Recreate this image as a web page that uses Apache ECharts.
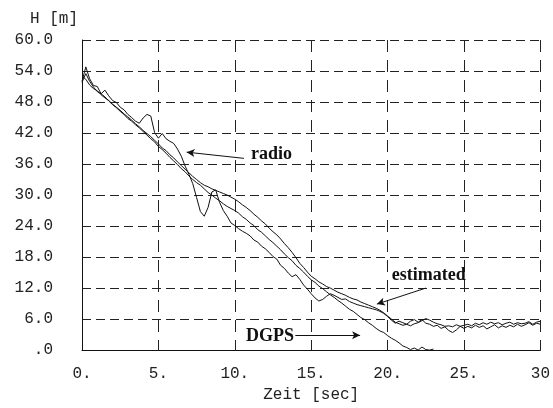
<!DOCTYPE html>
<html>
<head>
<meta charset="utf-8">
<script src="https://cdn.jsdelivr.net/npm/echarts@6/dist/echarts.min.js"></script>
<style>
  html, body { margin: 0; padding: 0; background: #fff; }
  #echarts { width: 553px; height: 408px; }
</style>
</head>
<body>
<div id="echarts"></div>
<script>
// Abtastschritt der Messreihen [sec]
var step = 0.25;

// Hoehe H [m], alle 0.25 s
var dgps = [
    51.8, 53.5, 52.0, 50.9,  50.0, 49.6, 49.0, 48.2,  47.5, 46.9, 46.2, 45.6,
    44.8, 44.3, 43.6, 43.0,  42.3, 41.6, 40.9, 40.3,  39.4, 38.8, 38.1, 37.3,
    36.6, 35.9, 35.1, 34.5,  33.7, 33.0, 32.4, 31.9,  31.2, 30.5, 30.0, 29.4,
    28.9, 28.3, 27.8, 27.4,  27.0, 26.5, 25.8, 25.3,  24.6, 24.1, 23.3, 22.8,
    22.1, 21.4, 20.8, 20.1,  19.4, 18.6, 17.9, 17.3,  16.4, 15.8, 15.1, 14.3,
    13.6, 13.1, 12.4, 11.9,  11.3, 10.7, 10.2, 9.6,   9.1, 8.5, 7.9, 7.5,
    6.9, 6.3, 5.9, 5.3,      4.8, 4.2, 3.7, 3.4,      2.8, 2.3, 1.9, 1.4,
    0.8, 0.5, 0.1, 0.4,      0.0, 0.6, 0.1, 0.0,      0.2
];

var estimated = [
    53.0, 52.4, 51.3, 50.6,  50.2, 49.4, 48.8, 48.3,  47.6, 47.0, 46.4, 45.7,
    45.1, 44.5, 43.8, 43.2,  42.5, 41.9, 41.3, 40.6,  39.9, 39.1, 38.6, 37.8,
    37.2, 36.4, 35.7, 35.0,  34.3, 33.6, 33.0, 32.4,  31.9, 31.6, 31.2, 30.9,
    30.6, 30.3, 30.0, 29.6,  29.2, 28.7, 28.1, 27.6,  27.0, 26.3, 25.7, 25.0,
    24.4, 23.6, 22.9, 22.3,  21.5, 20.6, 19.8, 18.9,  17.9, 16.8, 16.0, 15.1,
    14.3, 13.8, 13.2, 12.8,  12.3, 12.0, 11.6, 11.2,  10.9, 10.6, 10.2, 9.9,
    9.7, 9.3, 9.0, 8.7,      8.4, 8.1, 7.7, 7.2,      6.6, 6.0, 5.4, 5.1,
    4.8, 5.0, 4.7, 5.1,      5.3, 5.7, 6.1, 5.8,      5.4, 5.1, 4.9, 4.6,
    4.7, 4.5, 4.9, 4.6,      4.8, 5.0, 4.7, 5.2,      4.9, 5.3, 5.0, 5.4,
    5.1, 5.3, 4.9, 5.2,      5.4, 5.0, 5.3, 5.1,      5.2, 5.5, 5.0, 5.4,
    5.6
];

var radio = [
    52.0, 54.8, 52.5, 51.2,  51.0, 49.6, 50.3, 49.2,  48.3, 47.9, 47.0, 46.5,
    45.6, 45.0, 44.3, 43.9,  44.9, 45.6, 45.3, 42.1,  41.0, 41.9, 40.9, 40.4,
    40.0, 38.9, 37.5, 35.6,  34.0, 32.2, 29.5, 26.8,  25.9, 27.6, 30.6, 31.0,
    28.6, 27.0, 25.9, 24.6,  24.1, 23.5, 23.0, 22.6,  22.1, 21.3, 20.9, 20.1,
    19.6, 18.9, 18.1, 17.6,  16.4, 15.8, 14.9, 14.2,  14.6, 13.7, 12.6, 11.8,
    10.9, 10.1, 9.5, 9.8,    10.4, 10.9, 10.6, 10.2,  9.8, 9.9, 9.4, 9.1,
    8.8, 8.6, 8.4, 8.2,      8.0, 7.8, 7.5, 7.1,      6.5, 5.8, 5.2, 5.6,
    5.3, 5.0, 5.6, 5.9,      5.4, 5.9, 5.2, 5.0,      4.6, 4.8, 4.2, 4.5,
    3.8, 3.4, 3.9, 4.6,      4.2, 4.6, 4.3, 4.8,      4.4, 4.7, 4.1, 4.5,
    4.9, 4.3, 4.7, 4.4,      4.8, 4.5, 5.0, 4.6,      4.9, 5.3, 4.8, 5.2,
    5.0
];

// Beschriftungen im Diagramm: [t, H] des Textes, Pfeil von -> nach
var labelNames = ['radio', 'estimated', 'DGPS'];
var labelPos   = [[12.4, 37.9], [22.7, 14.5], [12.3, 2.7]];
var arrowFrom  = [[10.6, 37.1], [22.5, 12.0], [13.96, 2.86]];
var arrowTo    = [[6.85, 38.3], [19.3, 8.9],  [18.2, 2.86]];

function toPairs(arr){
    return arr.map(function(h, i){ return [i * step, h]; });
}

var myChart = echarts.init(document.getElementById('echarts'));

var monoFont = '"Liberation Mono", "DejaVu Sans Mono", monospace';
var serifFont = '"Liberation Serif", "DejaVu Serif", serif';

var lineBase = {
    type: 'line',
    showSymbol: false,
    symbol: 'none',
    lineStyle: { color: '#111', width: 1 },
    z: 3
};

var series = [
    Object.assign({}, lineBase, { name: 'radio', data: toPairs(radio) }),
    Object.assign({}, lineBase, { name: 'estimated', data: toPairs(estimated) }),
    Object.assign({}, lineBase, { name: 'DGPS', data: toPairs(dgps) }),
    {
        // nur fuer Pfeile und Texte
        name: 'annot',
        type: 'line',
        data: [],
        markLine: {
            silent: true,
            symbol: ['none', 'arrow'],
            symbolSize: [6, 8],
            label: { show: false },
            lineStyle: { color: '#111', width: 1, type: 'solid' },
            data: labelNames.map(function(n, i){
                return [{ coord: arrowFrom[i] }, { coord: arrowTo[i] }];
            })
        },
        markPoint: {
            silent: true,
            symbol: 'circle',
            symbolSize: 0,
            label: {
                show: true,
                position: 'inside',
                formatter: '{b}',
                color: '#111',
                fontFamily: serifFont,
                fontWeight: 'bold',
                fontSize: 18
            },
            data: labelNames.map(function(n, i){
                return { name: n, coord: labelPos[i] };
            })
        }
    }
];

var option = {
    animation: false,
    backgroundColor: '#fff',
    grid: { left: 82, right: 7, top: 40, bottom: 53 },
    xAxis: {
        type: 'value',
        min: 0,
        max: 30,
        interval: 5,
        name: 'Zeit [sec]',
        nameLocation: 'middle',
        nameGap: 34,
        nameTextStyle: { fontFamily: monoFont, fontSize: 16, color: '#222' },
        axisLine: { show: true, lineStyle: { color: '#111', width: 1 } },
        axisTick: { show: false },
        axisLabel: {
            margin: 16,
            fontFamily: monoFont,
            fontSize: 16,
            color: '#222',
            formatter: function(v){ return v === 30 ? '30' : v + '.'; }
        },
        splitLine: { show: true, lineStyle: { color: '#222', width: 1, type: [12, 8] } }
    },
    yAxis: {
        type: 'value',
        min: 0,
        max: 60,
        interval: 6,
        name: 'H [m]',
        nameLocation: 'end',
        nameGap: 13,
        nameTextStyle: { fontFamily: monoFont, fontSize: 16, color: '#222', align: 'right', padding: [0, 4, 0, 0] },
        axisLine: { show: true, lineStyle: { color: '#111', width: 1 } },
        axisTick: { show: false },
        axisLabel: {
            margin: 29,
            fontFamily: monoFont,
            fontSize: 16,
            color: '#222',
            formatter: function(v){ return v === 0 ? '.0' : v.toFixed(1); }
        },
        splitLine: { show: true, lineStyle: { color: '#222', width: 1, type: [9, 5] } }
    },
    series: series
};

myChart.setOption(option);
</script>
</body>
</html>
